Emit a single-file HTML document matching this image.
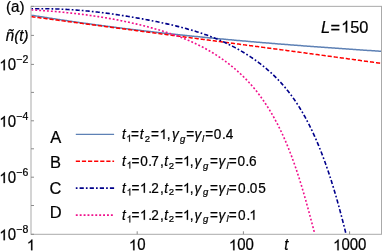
<!DOCTYPE html>
<html><head><meta charset="utf-8"><title>plot</title>
<style>
html,body{margin:0;padding:0;background:#fff;}
body{width:382px;height:251px;overflow:hidden;font-family:"Liberation Sans",sans-serif;}
svg{display:block;will-change:transform;font-family:"Liberation Sans",sans-serif;}
</style></head><body>
<svg width="382" height="251" viewBox="0 0 382 251">
<rect width="382" height="251" fill="#fff"/>
<defs><clipPath id="cp"><rect x="31.0" y="6.35" width="350.5" height="227.95"/></clipPath></defs>
<g clip-path="url(#cp)" fill="none" stroke-linecap="butt" stroke-linejoin="round">
<path d="M31.31,15.18 L32.47,15.37 L33.64,15.56 L34.80,15.74 L35.97,15.93 L37.13,16.12 L38.29,16.31 L39.46,16.49 L40.62,16.68 L41.78,16.86 L42.95,17.05 L44.11,17.23 L45.28,17.42 L46.44,17.60 L47.60,17.78 L48.77,17.96 L49.93,18.14 L51.10,18.32 L52.26,18.50 L53.43,18.68 L54.59,18.86 L55.76,19.04 L56.92,19.21 L58.09,19.39 L59.25,19.57 L60.42,19.74 L61.58,19.92 L62.75,20.09 L63.91,20.26 L65.08,20.44 L66.24,20.61 L67.41,20.78 L68.57,20.95 L69.74,21.12 L70.90,21.29 L72.07,21.46 L73.24,21.63 L74.40,21.80 L75.57,21.97 L76.73,22.13 L77.90,22.30 L79.07,22.47 L80.23,22.63 L81.40,22.80 L82.56,22.96 L83.73,23.13 L84.90,23.29 L86.06,23.45 L87.23,23.61 L88.40,23.78 L89.56,23.94 L90.73,24.10 L91.90,24.26 L93.07,24.42 L94.23,24.58 L95.40,24.73 L96.57,24.89 L97.73,25.05 L98.90,25.21 L100.07,25.36 L101.24,25.52 L102.40,25.67 L103.57,25.83 L104.74,25.98 L105.91,26.13 L107.07,26.29 L108.24,26.44 L109.41,26.59 L110.58,26.74 L111.75,26.89 L112.91,27.04 L114.08,27.19 L115.25,27.34 L116.42,27.49 L117.59,27.64 L118.76,27.79 L119.92,27.94 L121.09,28.08 L122.26,28.23 L123.43,28.37 L124.60,28.52 L125.77,28.66 L126.94,28.81 L128.11,28.95 L129.27,29.10 L130.44,29.24 L131.61,29.38 L132.78,29.52 L133.95,29.66 L135.12,29.81 L136.29,29.95 L137.46,30.09 L138.63,30.22 L139.80,30.36 L140.97,30.50 L142.14,30.64 L143.31,30.78 L144.48,30.91 L145.65,31.05 L146.81,31.19 L147.98,31.32 L149.15,31.46 L150.32,31.59 L151.49,31.73 L152.66,31.86 L153.83,31.99 L155.00,32.13 L156.18,32.26 L157.35,32.39 L158.52,32.52 L159.69,32.65 L160.86,32.78 L162.03,32.92 L163.20,33.04 L164.37,33.17 L165.54,33.30 L166.71,33.43 L167.88,33.56 L169.05,33.69 L170.22,33.81 L171.39,33.94 L172.56,34.07 L173.73,34.19 L174.90,34.32 L176.08,34.44 L177.25,34.57 L178.42,34.69 L179.59,34.82 L180.76,34.94 L181.93,35.06 L183.10,35.18 L184.27,35.31 L185.45,35.43 L186.62,35.55 L187.79,35.67 L188.96,35.79 L190.13,35.91 L191.30,36.03 L192.48,36.15 L193.65,36.27 L194.82,36.39 L195.99,36.50 L197.16,36.62 L198.33,36.74 L199.51,36.86 L200.68,36.97 L201.85,37.09 L203.02,37.20 L204.19,37.32 L205.37,37.43 L206.54,37.55 L207.71,37.66 L208.88,37.78 L210.06,37.89 L211.23,38.00 L212.40,38.11 L213.57,38.23 L214.75,38.34 L215.92,38.45 L217.09,38.56 L218.26,38.67 L219.44,38.78 L220.61,38.89 L221.78,39.00 L222.95,39.11 L224.13,39.22 L225.30,39.33 L226.47,39.44 L227.64,39.55 L228.82,39.65 L229.99,39.76 L231.16,39.87 L232.34,39.97 L233.51,40.08 L234.68,40.19 L235.86,40.29 L237.03,40.40 L238.20,40.50 L239.38,40.61 L240.55,40.71 L241.72,40.81 L242.90,40.92 L244.07,41.02 L245.24,41.12 L246.42,41.23 L247.59,41.33 L248.76,41.43 L249.94,41.53 L251.11,41.63 L252.28,41.73 L253.46,41.83 L254.63,41.93 L255.80,42.03 L256.98,42.13 L258.15,42.23 L259.32,42.33 L260.50,42.43 L261.67,42.53 L262.85,42.63 L264.02,42.73 L265.19,42.82 L266.37,42.92 L267.54,43.02 L268.72,43.12 L269.89,43.21 L271.06,43.31 L272.24,43.40 L273.41,43.50 L274.59,43.59 L275.76,43.69 L276.93,43.78 L278.11,43.88 L279.28,43.97 L280.46,44.07 L281.63,44.16 L282.81,44.25 L283.98,44.35 L285.15,44.44 L286.33,44.53 L287.50,44.62 L288.68,44.72 L289.85,44.81 L291.03,44.90 L292.20,44.99 L293.37,45.08 L294.55,45.17 L295.72,45.26 L296.90,45.35 L298.07,45.44 L299.25,45.53 L300.42,45.62 L301.60,45.71 L302.77,45.80 L303.95,45.89 L305.12,45.98 L306.29,46.07 L307.47,46.15 L308.64,46.24 L309.82,46.33 L310.99,46.42 L312.17,46.50 L313.34,46.59 L314.52,46.68 L315.69,46.77 L316.87,46.85 L318.04,46.94 L319.22,47.02 L320.39,47.11 L321.57,47.19 L322.74,47.28 L323.92,47.36 L325.09,47.45 L326.27,47.53 L327.44,47.62 L328.62,47.70 L329.79,47.79 L330.97,47.87 L332.14,47.95 L333.32,48.04 L334.49,48.12 L335.67,48.20 L336.84,48.29 L338.02,48.37 L339.19,48.45 L340.37,48.53 L341.54,48.61 L342.72,48.70 L343.89,48.78 L345.07,48.86 L346.24,48.94 L347.42,49.02 L348.59,49.10 L349.77,49.18 L350.94,49.26 L352.12,49.34 L353.29,49.43 L354.47,49.51 L355.64,49.59 L356.82,49.66 L357.99,49.74 L359.17,49.82 L360.34,49.90 L361.52,49.98 L362.70,50.06 L363.87,50.14 L365.05,50.22 L366.22,50.30 L367.40,50.38 L368.57,50.45 L369.75,50.53 L370.92,50.61 L372.10,50.69 L373.27,50.77 L374.45,50.84 L375.62,50.92 L376.80,51.00 L377.97,51.07 L379.15,51.15 L380.32,51.23 L381.50,51.30" stroke="#5E81B5" stroke-width="1.5"/>
<path d="M31.32,16.65 L32.49,16.81 L33.66,16.96 L34.83,17.12 L36.01,17.28 L37.18,17.43 L38.35,17.59 L39.52,17.75 L40.69,17.91 L41.86,18.06 L43.03,18.22 L44.20,18.38 L45.37,18.53 L46.55,18.69 L47.72,18.85 L48.89,19.00 L50.06,19.16 L51.23,19.32 L52.40,19.47 L53.57,19.63 L54.74,19.79 L55.91,19.94 L57.09,20.10 L58.26,20.26 L59.43,20.41 L60.60,20.57 L61.77,20.73 L62.94,20.88 L64.11,21.04 L65.28,21.19 L66.45,21.35 L67.63,21.51 L68.80,21.66 L69.97,21.82 L71.14,21.97 L72.31,22.13 L73.48,22.29 L74.65,22.44 L75.82,22.60 L77.00,22.75 L78.17,22.91 L79.34,23.06 L80.51,23.22 L81.68,23.38 L82.85,23.53 L84.02,23.69 L85.19,23.84 L86.37,24.00 L87.54,24.15 L88.71,24.31 L89.88,24.46 L91.05,24.62 L92.22,24.77 L93.39,24.93 L94.57,25.08 L95.74,25.24 L96.91,25.39 L98.08,25.55 L99.25,25.71 L100.42,25.86 L101.59,26.02 L102.76,26.17 L103.94,26.33 L105.11,26.48 L106.28,26.64 L107.45,26.79 L108.62,26.95 L109.79,27.10 L110.96,27.25 L112.14,27.41 L113.31,27.56 L114.48,27.72 L115.65,27.87 L116.82,28.03 L117.99,28.18 L119.16,28.34 L120.34,28.49 L121.51,28.65 L122.68,28.80 L123.85,28.96 L125.02,29.11 L126.19,29.27 L127.36,29.42 L128.54,29.58 L129.71,29.73 L130.88,29.88 L132.05,30.04 L133.22,30.19 L134.39,30.35 L135.56,30.50 L136.74,30.66 L137.91,30.81 L139.08,30.97 L140.25,31.12 L141.42,31.27 L142.59,31.43 L143.76,31.58 L144.94,31.74 L146.11,31.89 L147.28,32.05 L148.45,32.20 L149.62,32.36 L150.79,32.51 L151.97,32.66 L153.14,32.82 L154.31,32.97 L155.48,33.13 L156.65,33.28 L157.82,33.44 L158.99,33.59 L160.17,33.74 L161.34,33.90 L162.51,34.05 L163.68,34.21 L164.85,34.36 L166.02,34.52 L167.19,34.67 L168.37,34.82 L169.54,34.98 L170.71,35.13 L171.88,35.29 L173.05,35.44 L174.22,35.60 L175.39,35.75 L176.57,35.90 L177.74,36.06 L178.91,36.21 L180.08,36.37 L181.25,36.52 L182.42,36.68 L183.60,36.83 L184.77,36.99 L185.94,37.14 L187.11,37.29 L188.28,37.45 L189.45,37.60 L190.62,37.76 L191.80,37.91 L192.97,38.07 L194.14,38.22 L195.31,38.37 L196.48,38.53 L197.65,38.68 L198.82,38.84 L200.00,38.99 L201.17,39.15 L202.34,39.30 L203.51,39.46 L204.68,39.61 L205.85,39.77 L207.02,39.92 L208.20,40.07 L209.37,40.23 L210.54,40.38 L211.71,40.54 L212.88,40.69 L214.05,40.85 L215.23,41.00 L216.40,41.16 L217.57,41.31 L218.74,41.47 L219.91,41.62 L221.08,41.78 L222.25,41.93 L223.43,42.09 L224.60,42.24 L225.77,42.40 L226.94,42.55 L228.11,42.71 L229.28,42.86 L230.45,43.02 L231.63,43.17 L232.80,43.33 L233.97,43.48 L235.14,43.64 L236.31,43.79 L237.48,43.95 L238.65,44.10 L239.82,44.26 L241.00,44.41 L242.17,44.57 L243.34,44.72 L244.51,44.88 L245.68,45.03 L246.85,45.19 L248.02,45.34 L249.20,45.50 L250.37,45.66 L251.54,45.81 L252.71,45.97 L253.88,46.12 L255.05,46.28 L256.22,46.43 L257.40,46.59 L258.57,46.75 L259.74,46.90 L260.91,47.06 L262.08,47.21 L263.25,47.37 L264.42,47.52 L265.59,47.68 L266.77,47.84 L267.94,47.99 L269.11,48.15 L270.28,48.31 L271.45,48.46 L272.62,48.62 L273.79,48.77 L274.96,48.93 L276.14,49.09 L277.31,49.24 L278.48,49.40 L279.65,49.56 L280.82,49.71 L281.99,49.87 L283.16,50.03 L284.33,50.18 L285.51,50.34 L286.68,50.50 L287.85,50.65 L289.02,50.81 L290.19,50.97 L291.36,51.12 L292.53,51.28 L293.70,51.44 L294.87,51.60 L296.05,51.75 L297.22,51.91 L298.39,52.07 L299.56,52.22 L300.73,52.38 L301.90,52.54 L303.07,52.70 L304.24,52.85 L305.41,53.01 L306.59,53.17 L307.76,53.33 L308.93,53.49 L310.10,53.64 L311.27,53.80 L312.44,53.96 L313.61,54.12 L314.78,54.28 L315.95,54.43 L317.12,54.59 L318.30,54.75 L319.47,54.91 L320.64,55.07 L321.81,55.23 L322.98,55.38 L324.15,55.54 L325.32,55.70 L326.49,55.86 L327.66,56.02 L328.83,56.18 L330.00,56.34 L331.18,56.50 L332.35,56.66 L333.52,56.81 L334.69,56.97 L335.86,57.13 L337.03,57.29 L338.20,57.45 L339.37,57.61 L340.54,57.77 L341.71,57.93 L342.88,58.09 L344.05,58.25 L345.22,58.41 L346.40,58.57 L347.57,58.73 L348.74,58.89 L349.91,59.05 L351.08,59.21 L352.25,59.37 L353.42,59.53 L354.59,59.69 L355.76,59.85 L356.93,60.01 L358.10,60.17 L359.27,60.33 L360.44,60.49 L361.61,60.66 L362.78,60.82 L363.96,60.98 L365.13,61.14 L366.30,61.30 L367.47,61.46 L368.64,61.62 L369.81,61.78 L370.98,61.95 L372.15,62.11 L373.32,62.27 L374.49,62.43 L375.66,62.59 L376.83,62.76 L378.00,62.92 L379.17,63.08 L380.34,63.24 L381.51,63.40" stroke="#FF0000" stroke-width="1.5" stroke-dasharray="4.2 1.9"/>
<path d="M31.33,8.79 L32.43,8.77 L33.52,8.75 L34.62,8.73 L35.71,8.72 L36.80,8.71 L37.90,8.70 L38.99,8.69 L40.08,8.69 L41.17,8.69 L42.26,8.69 L43.35,8.70 L44.44,8.70 L45.53,8.71 L46.62,8.73 L47.71,8.74 L48.80,8.76 L49.88,8.78 L50.97,8.80 L52.06,8.83 L53.14,8.86 L54.23,8.89 L55.31,8.92 L56.40,8.96 L57.48,9.00 L58.57,9.04 L59.65,9.08 L60.73,9.13 L61.82,9.18 L62.90,9.23 L63.98,9.28 L65.06,9.34 L66.14,9.40 L67.23,9.46 L68.31,9.52 L69.39,9.58 L70.47,9.65 L71.55,9.72 L72.63,9.79 L73.70,9.87 L74.78,9.95 L75.86,10.03 L76.94,10.11 L78.02,10.19 L79.10,10.28 L80.17,10.37 L81.25,10.46 L82.33,10.55 L83.40,10.64 L84.48,10.74 L85.55,10.84 L86.63,10.94 L87.71,11.05 L88.78,11.15 L89.86,11.26 L90.93,11.37 L92.00,11.48 L93.08,11.60 L94.15,11.71 L95.23,11.83 L96.30,11.95 L97.37,12.07 L98.45,12.20 L99.52,12.33 L100.59,12.45 L101.67,12.58 L102.74,12.72 L103.81,12.85 L104.88,12.99 L105.95,13.13 L107.03,13.27 L108.10,13.41 L109.17,13.55 L110.24,13.70 L111.31,13.85 L112.38,14.00 L113.45,14.15 L114.52,14.30 L115.60,14.46 L116.67,14.61 L117.74,14.77 L118.81,14.93 L119.88,15.10 L120.95,15.26 L122.02,15.43 L123.09,15.59 L124.16,15.76 L125.23,15.94 L126.30,16.11 L127.37,16.28 L128.44,16.46 L129.51,16.64 L130.58,16.82 L131.65,17.00 L132.72,17.18 L133.79,17.36 L134.86,17.55 L135.93,17.74 L137.00,17.93 L138.07,18.12 L139.13,18.31 L140.20,18.50 L141.27,18.70 L142.34,18.90 L143.41,19.09 L144.48,19.29 L145.55,19.50 L146.62,19.70 L147.69,19.90 L148.76,20.11 L149.83,20.31 L150.90,20.52 L151.97,20.73 L153.04,20.94 L154.11,21.16 L155.18,21.37 L156.25,21.59 L157.32,21.81 L158.39,22.03 L159.46,22.25 L160.53,22.47 L161.60,22.70 L162.67,22.92 L163.74,23.15 L164.80,23.39 L165.87,23.62 L166.94,23.86 L168.00,24.10 L169.07,24.34 L170.14,24.58 L171.20,24.83 L172.27,25.08 L173.33,25.33 L174.39,25.58 L175.45,25.84 L176.52,26.10 L177.58,26.36 L178.64,26.63 L179.70,26.89 L180.75,27.17 L181.81,27.44 L182.87,27.72 L183.92,28.00 L184.98,28.28 L186.03,28.57 L187.08,28.86 L188.13,29.16 L189.18,29.45 L190.23,29.76 L191.28,30.06 L192.33,30.37 L193.37,30.68 L194.41,31.00 L195.46,31.32 L196.50,31.64 L197.54,31.97 L198.57,32.31 L199.61,32.64 L200.65,32.98 L201.68,33.33 L202.71,33.68 L203.74,34.03 L204.77,34.39 L205.80,34.75 L206.82,35.12 L207.84,35.49 L208.87,35.87 L209.89,36.25 L210.90,36.63 L211.92,37.02 L212.93,37.42 L213.95,37.82 L214.96,38.22 L215.96,38.63 L216.97,39.05 L217.97,39.47 L218.97,39.89 L219.97,40.33 L220.97,40.76 L221.97,41.20 L222.96,41.65 L223.95,42.10 L224.94,42.56 L225.92,43.02 L226.90,43.48 L227.88,43.96 L228.86,44.43 L229.84,44.91 L230.81,45.40 L231.78,45.89 L232.74,46.39 L233.71,46.89 L234.67,47.40 L235.62,47.91 L236.58,48.43 L237.53,48.96 L238.48,49.48 L239.42,50.02 L240.36,50.56 L241.30,51.10 L242.24,51.65 L243.17,52.20 L244.09,52.76 L245.02,53.33 L245.94,53.90 L246.86,54.47 L247.77,55.05 L248.68,55.64 L249.59,56.23 L250.49,56.82 L251.39,57.42 L252.28,58.03 L253.17,58.64 L254.06,59.26 L254.94,59.88 L255.82,60.51 L256.70,61.14 L257.57,61.78 L258.43,62.42 L259.29,63.07 L260.15,63.72 L261.01,64.38 L261.85,65.04 L262.70,65.71 L263.54,66.38 L264.37,67.06 L265.20,67.75 L266.03,68.44 L266.85,69.13 L267.67,69.83 L268.48,70.54 L269.28,71.25 L270.09,71.96 L270.88,72.69 L271.67,73.41 L272.46,74.14 L273.24,74.88 L274.02,75.62 L274.79,76.37 L275.56,77.12 L276.32,77.88 L277.07,78.65 L277.82,79.41 L278.57,80.19 L279.30,80.97 L280.04,81.75 L280.77,82.54 L281.49,83.34 L282.20,84.14 L282.91,84.94 L283.62,85.75 L284.32,86.57 L285.01,87.39 L285.70,88.22 L286.38,89.05 L287.06,89.89 L287.73,90.73 L288.40,91.57 L289.06,92.42 L289.71,93.28 L290.36,94.14 L291.01,95.00 L291.65,95.87 L292.28,96.74 L292.91,97.62 L293.54,98.50 L294.16,99.39 L294.77,100.28 L295.38,101.17 L295.98,102.07 L296.58,102.97 L297.18,103.88 L297.77,104.79 L298.35,105.70 L298.93,106.62 L299.51,107.54 L300.08,108.47 L300.64,109.40 L301.20,110.33 L301.76,111.26 L302.31,112.20 L302.86,113.14 L303.40,114.09 L303.94,115.04 L304.48,115.99 L305.01,116.94 L305.53,117.90 L306.05,118.86 L306.57,119.82 L307.08,120.79 L307.59,121.76 L308.10,122.73 L308.60,123.70 L309.09,124.68 L309.58,125.66 L310.07,126.64 L310.56,127.62 L311.04,128.61 L311.51,129.60 L311.99,130.59 L312.46,131.58 L312.92,132.57 L313.38,133.57 L313.84,134.57 L314.30,135.57 L314.75,136.57 L315.19,137.57 L315.64,138.58 L316.08,139.59 L316.51,140.59 L316.95,141.60 L317.38,142.62 L317.80,143.63 L318.23,144.64 L318.65,145.66 L319.06,146.67 L319.48,147.69 L319.89,148.71 L320.29,149.73 L320.70,150.75 L321.10,151.77 L321.50,152.79 L321.89,153.82 L322.29,154.84 L322.67,155.86 L323.06,156.89 L323.44,157.91 L323.83,158.94 L324.20,159.97 L324.58,160.99 L324.95,162.02 L325.32,163.05 L325.69,164.07 L326.05,165.10 L326.42,166.13 L326.78,167.16 L327.13,168.19 L327.49,169.22 L327.84,170.25 L328.19,171.28 L328.54,172.31 L328.88,173.34 L329.23,174.37 L329.57,175.41 L329.91,176.44 L330.24,177.47 L330.58,178.50 L330.91,179.54 L331.24,180.57 L331.57,181.61 L331.89,182.64 L332.21,183.67 L332.54,184.71 L332.86,185.74 L333.17,186.78 L333.49,187.82 L333.80,188.85 L334.11,189.89 L334.42,190.92 L334.73,191.96 L335.04,193.00 L335.34,194.03 L335.64,195.07 L335.95,196.11 L336.25,197.15 L336.54,198.19 L336.84,199.22 L337.13,200.26 L337.43,201.30 L337.72,202.34 L338.01,203.38 L338.30,204.42 L338.58,205.46 L338.87,206.50 L339.16,207.54 L339.44,208.57 L339.72,209.61 L340.00,210.65 L340.28,211.69 L340.56,212.73 L340.84,213.78 L341.11,214.82 L341.39,215.86 L341.66,216.90 L341.93,217.94 L342.20,218.98 L342.47,220.02 L342.74,221.06 L343.01,222.10 L343.28,223.14 L343.55,224.18 L343.81,225.22 L344.08,226.26 L344.34,227.31 L344.61,228.35 L344.87,229.39 L345.13,230.43 L345.39,231.47 L345.65,232.51 L345.92,233.55" stroke="#00008B" stroke-width="1.6" stroke-dasharray="1.7 2.1 4.2 2.1"/>
<path d="M31.40,9.95 L32.40,10.00 L33.40,10.06 L34.40,10.11 L35.40,10.17 L36.39,10.23 L37.39,10.28 L38.39,10.34 L39.39,10.41 L40.39,10.47 L41.39,10.53 L42.38,10.60 L43.38,10.66 L44.38,10.73 L45.38,10.80 L46.38,10.87 L47.38,10.94 L48.38,11.02 L49.38,11.09 L50.38,11.17 L51.37,11.24 L52.37,11.32 L53.37,11.40 L54.37,11.49 L55.37,11.57 L56.37,11.65 L57.37,11.74 L58.37,11.83 L59.37,11.91 L60.36,12.01 L61.36,12.10 L62.36,12.19 L63.36,12.29 L64.36,12.38 L65.36,12.48 L66.36,12.58 L67.36,12.68 L68.35,12.78 L69.35,12.89 L70.35,12.99 L71.35,13.10 L72.35,13.21 L73.35,13.32 L74.34,13.43 L75.34,13.54 L76.34,13.66 L77.34,13.78 L78.34,13.89 L79.33,14.01 L80.33,14.14 L81.33,14.26 L82.32,14.38 L83.32,14.51 L84.32,14.64 L85.32,14.77 L86.31,14.90 L87.31,15.04 L88.31,15.17 L89.30,15.31 L90.30,15.45 L91.29,15.59 L92.29,15.73 L93.28,15.87 L94.28,16.02 L95.27,16.17 L96.27,16.32 L97.26,16.47 L98.26,16.62 L99.25,16.78 L100.25,16.93 L101.24,17.09 L102.24,17.25 L103.23,17.42 L104.22,17.58 L105.22,17.75 L106.21,17.91 L107.20,18.08 L108.19,18.26 L109.18,18.43 L110.18,18.61 L111.17,18.78 L112.16,18.96 L113.15,19.15 L114.14,19.33 L115.13,19.51 L116.12,19.70 L117.11,19.89 L118.10,20.08 L119.09,20.28 L120.08,20.47 L121.07,20.67 L122.06,20.87 L123.05,21.07 L124.03,21.28 L125.02,21.48 L126.01,21.69 L126.99,21.90 L127.98,22.11 L128.97,22.33 L129.95,22.54 L130.94,22.76 L131.92,22.98 L132.91,23.21 L133.89,23.43 L134.88,23.66 L135.86,23.89 L136.84,24.12 L137.83,24.35 L138.81,24.59 L139.79,24.83 L140.77,25.07 L141.75,25.31 L142.73,25.56 L143.72,25.80 L144.70,26.05 L145.68,26.30 L146.65,26.56 L147.63,26.81 L148.61,27.07 L149.59,27.33 L150.57,27.60 L151.54,27.86 L152.52,28.13 L153.50,28.40 L154.47,28.67 L155.45,28.95 L156.42,29.23 L157.39,29.51 L158.37,29.79 L159.34,30.08 L160.31,30.37 L161.28,30.66 L162.25,30.95 L163.22,31.25 L164.19,31.55 L165.15,31.85 L166.12,32.16 L167.08,32.47 L168.05,32.78 L169.01,33.10 L169.97,33.42 L170.93,33.74 L171.89,34.07 L172.84,34.40 L173.80,34.73 L174.75,35.07 L175.71,35.41 L176.66,35.75 L177.61,36.10 L178.56,36.45 L179.50,36.81 L180.45,37.17 L181.39,37.53 L182.33,37.90 L183.27,38.27 L184.21,38.64 L185.15,39.02 L186.08,39.40 L187.01,39.79 L187.94,40.18 L188.87,40.58 L189.80,40.98 L190.72,41.39 L191.64,41.79 L192.56,42.21 L193.48,42.63 L194.40,43.05 L195.31,43.48 L196.22,43.91 L197.13,44.35 L198.04,44.79 L198.94,45.24 L199.84,45.69 L200.74,46.14 L201.64,46.60 L202.53,47.07 L203.42,47.54 L204.31,48.02 L205.20,48.50 L206.08,48.98 L206.96,49.47 L207.84,49.97 L208.71,50.47 L209.58,50.97 L210.45,51.48 L211.32,51.99 L212.18,52.51 L213.04,53.04 L213.90,53.56 L214.75,54.10 L215.60,54.63 L216.45,55.18 L217.29,55.72 L218.13,56.27 L218.97,56.83 L219.80,57.39 L220.63,57.96 L221.46,58.52 L222.28,59.10 L223.10,59.68 L223.92,60.26 L224.73,60.85 L225.54,61.44 L226.35,62.04 L227.15,62.64 L227.95,63.25 L228.74,63.86 L229.53,64.47 L230.32,65.09 L231.10,65.72 L231.88,66.35 L232.66,66.98 L233.43,67.62 L234.20,68.26 L234.96,68.90 L235.72,69.56 L236.47,70.21 L237.22,70.87 L237.97,71.53 L238.71,72.20 L239.45,72.88 L240.18,73.55 L240.91,74.24 L241.63,74.92 L242.35,75.61 L243.07,76.31 L243.78,77.01 L244.49,77.71 L245.19,78.42 L245.89,79.13 L246.58,79.84 L247.26,80.56 L247.95,81.29 L248.63,82.02 L249.30,82.75 L249.97,83.49 L250.63,84.23 L251.29,84.98 L251.94,85.73 L252.59,86.48 L253.24,87.24 L253.88,88.00 L254.51,88.77 L255.14,89.54 L255.77,90.31 L256.39,91.09 L257.01,91.87 L257.62,92.65 L258.23,93.44 L258.83,94.23 L259.43,95.03 L260.03,95.83 L260.62,96.63 L261.21,97.44 L261.79,98.25 L262.37,99.06 L262.94,99.88 L263.51,100.70 L264.07,101.52 L264.63,102.35 L265.19,103.18 L265.74,104.01 L266.29,104.85 L266.84,105.69 L267.38,106.53 L267.92,107.38 L268.45,108.23 L268.98,109.08 L269.50,109.93 L270.02,110.79 L270.54,111.65 L271.05,112.52 L271.56,113.38 L272.07,114.25 L272.57,115.12 L273.07,116.00 L273.56,116.87 L274.05,117.75 L274.54,118.64 L275.02,119.52 L275.50,120.41 L275.98,121.30 L276.45,122.19 L276.92,123.09 L277.39,123.98 L277.85,124.88 L278.31,125.79 L278.76,126.69 L279.21,127.60 L279.66,128.50 L280.11,129.41 L280.55,130.33 L280.99,131.24 L281.42,132.16 L281.86,133.08 L282.29,134.00 L282.71,134.92 L283.13,135.85 L283.55,136.77 L283.97,137.70 L284.38,138.63 L284.79,139.56 L285.20,140.49 L285.61,141.43 L286.01,142.37 L286.40,143.30 L286.80,144.24 L287.19,145.18 L287.58,146.13 L287.97,147.07 L288.35,148.02 L288.74,148.96 L289.11,149.91 L289.49,150.86 L289.86,151.81 L290.23,152.76 L290.60,153.72 L290.97,154.67 L291.33,155.63 L291.69,156.58 L292.05,157.54 L292.40,158.50 L292.75,159.46 L293.11,160.42 L293.45,161.38 L293.80,162.34 L294.14,163.30 L294.48,164.26 L294.82,165.23 L295.16,166.19 L295.49,167.16 L295.82,168.12 L296.15,169.09 L296.48,170.06 L296.80,171.03 L297.13,171.99 L297.45,172.96 L297.76,173.93 L298.08,174.90 L298.40,175.87 L298.71,176.84 L299.02,177.81 L299.33,178.78 L299.63,179.75 L299.94,180.72 L300.24,181.69 L300.54,182.66 L300.84,183.63 L301.14,184.60 L301.43,185.57 L301.73,186.54 L302.02,187.51 L302.31,188.48 L302.60,189.45 L302.89,190.42 L303.17,191.39 L303.46,192.36 L303.74,193.33 L304.02,194.29 L304.30,195.26 L304.58,196.23 L304.86,197.19 L305.13,198.16 L305.40,199.13 L305.68,200.09 L305.95,201.05 L306.22,202.02 L306.49,202.98 L306.75,203.94 L307.02,204.90 L307.28,205.86 L307.55,206.82 L307.81,207.78 L308.07,208.74 L308.33,209.69 L308.59,210.65 L308.85,211.60 L309.11,212.56 L309.36,213.51 L309.62,214.46 L309.87,215.41 L310.13,216.36 L310.38,217.30 L310.63,218.25 L310.88,219.19 L311.13,220.14 L311.38,221.08 L311.63,222.02 L311.88,222.95 L312.12,223.89 L312.37,224.83 L312.62,225.76 L312.86,226.69 L313.11,227.62 L313.35,228.55 L313.59,229.48 L313.84,230.40 L314.08,231.32 L314.32,232.24 L314.56,233.16" stroke="#F0108C" stroke-width="1.6" stroke-dasharray="1.9 2"/>
</g>
<g stroke="#aaaaaa" stroke-width="1" fill="none">
<rect x="31.0" y="6.35" width="350.5" height="227.95"/>
</g>
<g stroke="#8c8c8c" stroke-width="1" fill="none">
<line x1="137.20" y1="234.3" x2="137.20" y2="231.3"/>
<line x1="243.40" y1="234.3" x2="243.40" y2="231.3"/>
<line x1="349.60" y1="234.3" x2="349.60" y2="231.3"/>
<line x1="31.0" y1="234.30" x2="34.0" y2="234.30"/>
<line x1="31.0" y1="205.50" x2="34.0" y2="205.50"/>
<line x1="31.0" y1="177.20" x2="34.0" y2="177.20"/>
<line x1="31.0" y1="148.80" x2="34.0" y2="148.80"/>
<line x1="31.0" y1="120.80" x2="34.0" y2="120.80"/>
<line x1="31.0" y1="92.40" x2="34.0" y2="92.40"/>
<line x1="31.0" y1="64.40" x2="34.0" y2="64.40"/>
<line x1="31.0" y1="35.40" x2="34.0" y2="35.40"/>
<line x1="31.0" y1="6.35" x2="34.0" y2="6.35"/>
</g>
<g fill="none">
<path d="M75.8,134.4H114.1" stroke="#5E81B5" stroke-width="1.3"/>
<path d="M75.8,161.2H114.1" stroke="#FF0000" stroke-width="1.5" stroke-dasharray="4.2 1.9"/>
<path d="M75.8,188.1H114.1" stroke="#00008B" stroke-width="1.6" stroke-dasharray="1.7 2.1 4.2 2.1"/>
<path d="M75.8,215.1H114.1" stroke="#F0108C" stroke-width="1.6" stroke-dasharray="1.9 2"/>
</g>
<g fill="#000" stroke="#000" stroke-width="0.22">
<path transform="translate(-0.70,70.30) scale(0.00732,-0.00732)" stroke-width="30.0" d="M763 0H583V1147Q518 1085 412.5 1023T223 930V1104Q374 1175 487 1276T647 1472H763Z"/>
<text transform="translate(7.64,70.30) scale(1,1.04)" font-size="15.0">0</text>
<text transform="translate(16.30,63.30) scale(1,1.04)" font-size="10.5">−2</text>
<path transform="translate(-0.70,126.70) scale(0.00732,-0.00732)" stroke-width="30.0" d="M763 0H583V1147Q518 1085 412.5 1023T223 930V1104Q374 1175 487 1276T647 1472H763Z"/>
<text transform="translate(7.64,126.70) scale(1,1.04)" font-size="15.0">0</text>
<text transform="translate(16.30,119.70) scale(1,1.04)" font-size="10.5">−4</text>
<path transform="translate(-0.70,183.10) scale(0.00732,-0.00732)" stroke-width="30.0" d="M763 0H583V1147Q518 1085 412.5 1023T223 930V1104Q374 1175 487 1276T647 1472H763Z"/>
<text transform="translate(7.64,183.10) scale(1,1.04)" font-size="15.0">0</text>
<text transform="translate(16.30,176.10) scale(1,1.04)" font-size="10.5">−6</text>
<path transform="translate(-0.70,240.20) scale(0.00732,-0.00732)" stroke-width="30.0" d="M763 0H583V1147Q518 1085 412.5 1023T223 930V1104Q374 1175 487 1276T647 1472H763Z"/>
<text transform="translate(7.64,240.20) scale(1,1.04)" font-size="15.0">0</text>
<text transform="translate(16.30,233.20) scale(1,1.04)" font-size="10.5">−8</text>
<text transform="translate(6.00,12.00) scale(1,1.0)" font-size="15.2">(</text>
<text transform="translate(11.06,12.00) scale(1,1.04)" font-size="15.2">a</text>
<text transform="translate(19.51,12.00) scale(1,1.0)" font-size="15.2">)</text>
<text transform="translate(5.80,40.60) scale(1,1.04)" font-size="15.2" font-style="italic">ñ</text>
<text transform="translate(14.25,40.80) scale(1,1.0)" font-size="15.2" font-style="italic">(</text>
<text transform="translate(19.31,40.60) scale(1,1.04)" font-size="15.2" font-style="italic">t</text>
<text transform="translate(23.54,40.80) scale(1,1.0)" font-size="15.2" font-style="italic">)</text>
<path transform="translate(26.80,250.30) scale(0.00732,-0.00732)" stroke-width="30.0" d="M763 0H583V1147Q518 1085 412.5 1023T223 930V1104Q374 1175 487 1276T647 1472H763Z"/>
<path transform="translate(128.90,250.30) scale(0.00732,-0.00732)" stroke-width="30.0" d="M763 0H583V1147Q518 1085 412.5 1023T223 930V1104Q374 1175 487 1276T647 1472H763Z"/>
<text transform="translate(137.24,250.30) scale(1,1.04)" font-size="15.0">0</text>
<path transform="translate(228.90,250.30) scale(0.00732,-0.00732)" stroke-width="30.0" d="M763 0H583V1147Q518 1085 412.5 1023T223 930V1104Q374 1175 487 1276T647 1472H763Z"/>
<text transform="translate(237.24,250.30) scale(1,1.04)" font-size="15.0">00</text>
<path transform="translate(333.10,250.30) scale(0.00732,-0.00732)" stroke-width="30.0" d="M763 0H583V1147Q518 1085 412.5 1023T223 930V1104Q374 1175 487 1276T647 1472H763Z"/>
<text transform="translate(341.44,250.30) scale(1,1.04)" font-size="15.0">000</text>
<text transform="translate(284.20,250.00) scale(1,1.04)" font-size="15.0" font-style="italic">t</text>
<text transform="translate(321.00,32.60) scale(1,1.04)" font-size="16.4" font-style="italic">L</text>
<text transform="translate(330.60,32.60) scale(1,1.04)" font-size="16.4">=</text>
<path transform="translate(341.10,32.60) scale(0.00801,-0.00801)" stroke-width="27.5" d="M763 0H583V1147Q518 1085 412.5 1023T223 930V1104Q374 1175 487 1276T647 1472H763Z"/>
<text transform="translate(350.22,32.60) scale(1,1.04)" font-size="16.4">50</text>
<text transform="translate(50.30,143.00) scale(1,1.04)" font-size="16.5">A</text>
<text transform="translate(49.90,167.90) scale(1,1.04)" font-size="16.5">B</text>
<text transform="translate(49.60,194.20) scale(1,1.04)" font-size="16.5">C</text>
<text transform="translate(49.70,218.00) scale(1,1.04)" font-size="16.5">D</text>
<text transform="translate(121.92,139.00) scale(1,1.04)" font-size="13.6" font-style="italic">t</text>
<path transform="translate(126.34,141.70) scale(0.00469,-0.00469)" stroke-width="46.9" d="M763 0H583V1147Q518 1085 412.5 1023T223 930V1104Q374 1175 487 1276T647 1472H763Z"/>
<text transform="translate(130.93,139.00) scale(1,1.04)" font-size="13.6">=</text>
<text transform="translate(139.82,139.00) scale(1,1.04)" font-size="13.6" font-style="italic">t</text>
<text transform="translate(144.63,141.70) scale(1,1.04)" font-size="9.6">2</text>
<text transform="translate(151.03,139.00) scale(1,1.04)" font-size="13.6">=</text>
<path transform="translate(159.47,139.00) scale(0.00664,-0.00664)" stroke-width="33.1" d="M763 0H583V1147Q518 1085 412.5 1023T223 930V1104Q374 1175 487 1276T647 1472H763Z"/>
<text transform="translate(166.76,139.00) scale(1,1.04)" font-size="13.6">,</text>
<text transform="translate(172.06,139.00) scale(1,1.04)" font-size="13.6" font-style="italic">γ</text>
<text transform="translate(179.91,141.70) scale(1,1.04)" font-size="9.6" font-style="italic">g</text>
<text transform="translate(186.13,139.00) scale(1,1.04)" font-size="13.6">=</text>
<text transform="translate(194.41,139.00) scale(1,1.04)" font-size="13.6" font-style="italic">γ</text>
<text transform="translate(202.05,141.70) scale(1,1.04)" font-size="9.6" font-style="italic">l</text>
<text transform="translate(205.13,139.00) scale(1,1.04)" font-size="13.6">=</text>
<text transform="translate(213.82,139.00) scale(1,1.04)" font-size="13.6">0</text>
<text transform="translate(221.96,139.00) scale(1,1.04)" font-size="13.6">.</text>
<text transform="translate(225.71,139.00) scale(1,1.04)" font-size="13.6">4</text>
<text transform="translate(121.92,165.80) scale(1,1.04)" font-size="13.6" font-style="italic">t</text>
<path transform="translate(126.69,168.50) scale(0.00469,-0.00469)" stroke-width="46.9" d="M763 0H583V1147Q518 1085 412.5 1023T223 930V1104Q374 1175 487 1276T647 1472H763Z"/>
<text transform="translate(131.48,165.80) scale(1,1.04)" font-size="13.6">=</text>
<text transform="translate(140.22,165.80) scale(1,1.04)" font-size="13.6">0</text>
<text transform="translate(148.21,165.80) scale(1,1.04)" font-size="13.6">.</text>
<text transform="translate(151.21,165.80) scale(1,1.04)" font-size="13.6">7</text>
<text transform="translate(160.11,165.80) scale(1,1.04)" font-size="13.6">,</text>
<text transform="translate(164.17,165.80) scale(1,1.04)" font-size="13.6" font-style="italic">t</text>
<text transform="translate(168.68,168.50) scale(1,1.04)" font-size="9.6">2</text>
<text transform="translate(174.93,165.80) scale(1,1.04)" font-size="13.6">=</text>
<path transform="translate(182.97,165.80) scale(0.00664,-0.00664)" stroke-width="33.1" d="M763 0H583V1147Q518 1085 412.5 1023T223 930V1104Q374 1175 487 1276T647 1472H763Z"/>
<text transform="translate(189.76,165.80) scale(1,1.04)" font-size="13.6">,</text>
<text transform="translate(194.51,165.80) scale(1,1.04)" font-size="13.6" font-style="italic">γ</text>
<text transform="translate(203.01,168.50) scale(1,1.04)" font-size="9.6" font-style="italic">g</text>
<text transform="translate(209.98,165.80) scale(1,1.04)" font-size="13.6">=</text>
<text transform="translate(218.61,165.80) scale(1,1.04)" font-size="13.6" font-style="italic">γ</text>
<text transform="translate(226.40,168.50) scale(1,1.04)" font-size="9.6" font-style="italic">l</text>
<text transform="translate(228.83,165.80) scale(1,1.04)" font-size="13.6">=</text>
<text transform="translate(237.57,165.80) scale(1,1.04)" font-size="13.6">0</text>
<text transform="translate(245.56,165.80) scale(1,1.04)" font-size="13.6">.</text>
<text transform="translate(248.92,165.80) scale(1,1.04)" font-size="13.6">6</text>
<text transform="translate(121.92,192.70) scale(1,1.04)" font-size="13.6" font-style="italic">t</text>
<path transform="translate(126.69,195.40) scale(0.00469,-0.00469)" stroke-width="46.9" d="M763 0H583V1147Q518 1085 412.5 1023T223 930V1104Q374 1175 487 1276T647 1472H763Z"/>
<text transform="translate(131.48,192.70) scale(1,1.04)" font-size="13.6">=</text>
<path transform="translate(139.87,192.70) scale(0.00664,-0.00664)" stroke-width="33.1" d="M763 0H583V1147Q518 1085 412.5 1023T223 930V1104Q374 1175 487 1276T647 1472H763Z"/>
<text transform="translate(148.21,192.70) scale(1,1.04)" font-size="13.6">.</text>
<text transform="translate(151.32,192.70) scale(1,1.04)" font-size="13.6">2</text>
<text transform="translate(160.11,192.70) scale(1,1.04)" font-size="13.6">,</text>
<text transform="translate(164.17,192.70) scale(1,1.04)" font-size="13.6" font-style="italic">t</text>
<text transform="translate(168.68,195.40) scale(1,1.04)" font-size="9.6">2</text>
<text transform="translate(174.93,192.70) scale(1,1.04)" font-size="13.6">=</text>
<path transform="translate(182.97,192.70) scale(0.00664,-0.00664)" stroke-width="33.1" d="M763 0H583V1147Q518 1085 412.5 1023T223 930V1104Q374 1175 487 1276T647 1472H763Z"/>
<text transform="translate(189.76,192.70) scale(1,1.04)" font-size="13.6">,</text>
<text transform="translate(194.51,192.70) scale(1,1.04)" font-size="13.6" font-style="italic">γ</text>
<text transform="translate(203.01,195.40) scale(1,1.04)" font-size="9.6" font-style="italic">g</text>
<text transform="translate(209.98,192.70) scale(1,1.04)" font-size="13.6">=</text>
<text transform="translate(218.61,192.70) scale(1,1.04)" font-size="13.6" font-style="italic">γ</text>
<text transform="translate(226.40,195.40) scale(1,1.04)" font-size="9.6" font-style="italic">l</text>
<text transform="translate(228.83,192.70) scale(1,1.04)" font-size="13.6">=</text>
<text transform="translate(238.02,192.70) scale(1,1.04)" font-size="13.6">0</text>
<text transform="translate(246.41,192.70) scale(1,1.04)" font-size="13.6">.</text>
<text transform="translate(249.67,192.70) scale(1,1.04)" font-size="13.6">0</text>
<text transform="translate(258.33,192.70) scale(1,1.04)" font-size="13.6">5</text>
<text transform="translate(121.92,219.70) scale(1,1.04)" font-size="13.6" font-style="italic">t</text>
<path transform="translate(126.69,222.40) scale(0.00469,-0.00469)" stroke-width="46.9" d="M763 0H583V1147Q518 1085 412.5 1023T223 930V1104Q374 1175 487 1276T647 1472H763Z"/>
<text transform="translate(131.48,219.70) scale(1,1.04)" font-size="13.6">=</text>
<path transform="translate(139.87,219.70) scale(0.00664,-0.00664)" stroke-width="33.1" d="M763 0H583V1147Q518 1085 412.5 1023T223 930V1104Q374 1175 487 1276T647 1472H763Z"/>
<text transform="translate(148.21,219.70) scale(1,1.04)" font-size="13.6">.</text>
<text transform="translate(151.32,219.70) scale(1,1.04)" font-size="13.6">2</text>
<text transform="translate(160.11,219.70) scale(1,1.04)" font-size="13.6">,</text>
<text transform="translate(164.17,219.70) scale(1,1.04)" font-size="13.6" font-style="italic">t</text>
<text transform="translate(168.68,222.40) scale(1,1.04)" font-size="9.6">2</text>
<text transform="translate(174.93,219.70) scale(1,1.04)" font-size="13.6">=</text>
<path transform="translate(182.97,219.70) scale(0.00664,-0.00664)" stroke-width="33.1" d="M763 0H583V1147Q518 1085 412.5 1023T223 930V1104Q374 1175 487 1276T647 1472H763Z"/>
<text transform="translate(189.76,219.70) scale(1,1.04)" font-size="13.6">,</text>
<text transform="translate(194.51,219.70) scale(1,1.04)" font-size="13.6" font-style="italic">γ</text>
<text transform="translate(203.01,222.40) scale(1,1.04)" font-size="9.6" font-style="italic">g</text>
<text transform="translate(209.98,219.70) scale(1,1.04)" font-size="13.6">=</text>
<text transform="translate(218.61,219.70) scale(1,1.04)" font-size="13.6" font-style="italic">γ</text>
<text transform="translate(226.40,222.40) scale(1,1.04)" font-size="9.6" font-style="italic">l</text>
<text transform="translate(228.83,219.70) scale(1,1.04)" font-size="13.6">=</text>
<text transform="translate(238.02,219.70) scale(1,1.04)" font-size="13.6">0</text>
<text transform="translate(246.41,219.70) scale(1,1.04)" font-size="13.6">.</text>
<path transform="translate(249.37,219.70) scale(0.00664,-0.00664)" stroke-width="33.1" d="M763 0H583V1147Q518 1085 412.5 1023T223 930V1104Q374 1175 487 1276T647 1472H763Z"/>
</g>
</svg>
</body></html>
